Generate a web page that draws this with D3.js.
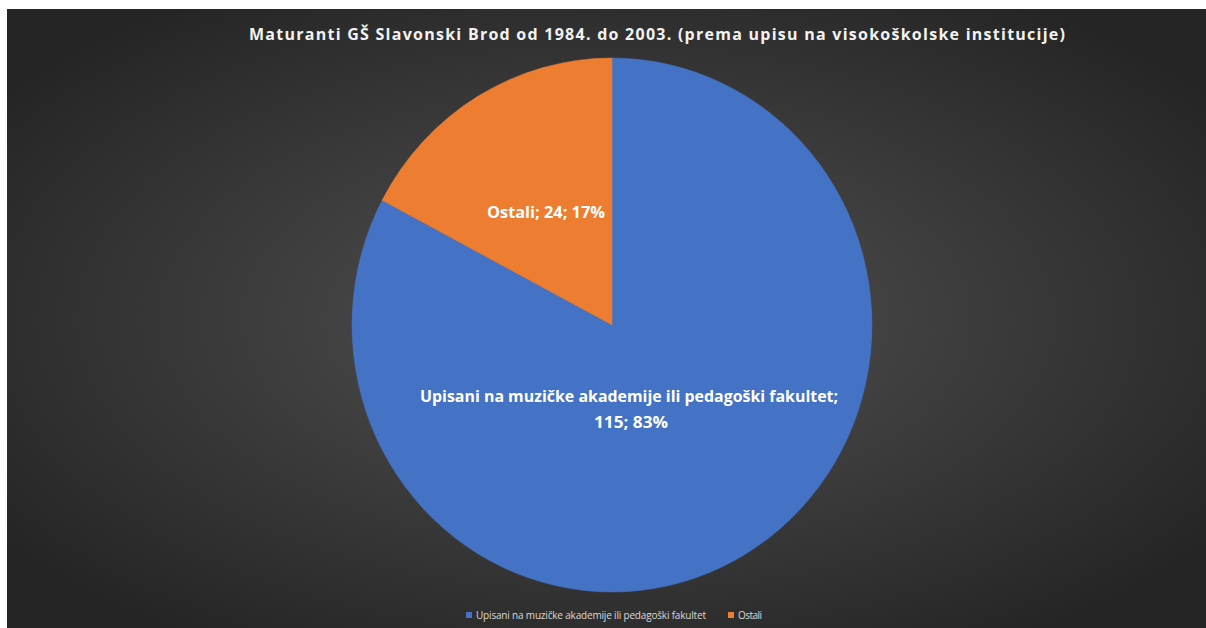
<!DOCTYPE html>
<html>
<head>
<meta charset="utf-8">
<script src="https://cdn.jsdelivr.net/npm/d3@7"></script>
<style>
  body { margin: 0; background: #fff; }
  svg text { font-family: "Open Sans", "Noto Sans", sans-serif; }
</style>
</head>
<body>
<div id="chart"></div>
<script>
const width = 1206
const height = 628

const title = "Maturanti GŠ Slavonski Brod od 1984. do 2003. (prema upisu na visokoškolske institucije)"
const categories = ["Upisani na muzičke akademije ili pedagoški fakultet", "Ostali"]
const values = [115, 24]
const percents = ["83%", "17%"]
const colors = ["#4472C4", "#ED7D31"]

const svg = d3.select("#chart").append("svg")
    .attr("width", width)
    .attr("height", height)

const defs = svg.append("defs")
const grad = defs.append("radialGradient").attr("id", "bg")
    .attr("cx", "50%").attr("cy", "50%").attr("r", "62%")
grad.append("stop").attr("offset", "0%").attr("stop-color", "#525252")
grad.append("stop").attr("offset", "100%").attr("stop-color", "#252525")

svg.append("rect")
    .attr("x", 7).attr("y", 9)
    .attr("width", width - 7).attr("height", height - 9)
    .attr("fill", "url(#bg)")

svg.append("text")
    .attr("x", 657).attr("y", 40)
    .attr("text-anchor", "middle")
    .attr("fill", "#f2f2f2")
    .attr("font-size", 16)
    .attr("font-weight", "bold")
    .attr("textLength", 816)
    .attr("lengthAdjust", "spacing")
    .text(title)

// pie
const cx = 612, cy = 325, r = 260
const pie = d3.pie().sort(null).value(d => d)
const arc = d3.arc().innerRadius(0).outerRadius(r)
const arcs = pie(values)

const g = svg.append("g")
    .attr("transform", `translate(${cx},${cy}) scale(1, ${267 / 260})`)

g.selectAll("path").data(arcs).enter().append("path")
    .attr("d", arc)
    .attr("fill", (d, i) => colors[i])
    .attr("stroke", (d, i) => colors[i])
    .attr("stroke-width", 0.5)

// data labels
const labels = svg.append("g").attr("fill", "#fff").attr("font-weight", "bold").attr("font-size", 16)

labels.append("text")
    .attr("x", 546).attr("y", 218)
    .attr("text-anchor", "middle")
    .attr("textLength", 118)
    .attr("lengthAdjust", "spacingAndGlyphs")
    .text(`${categories[1]}; ${values[1]}; ${percents[1]}`)

labels.append("text")
    .attr("x", 629).attr("y", 402)
    .attr("text-anchor", "middle")
    .attr("textLength", 418)
    .attr("lengthAdjust", "spacingAndGlyphs")
    .text(`${categories[0]};`)

labels.append("text")
    .attr("x", 631).attr("y", 428)
    .attr("text-anchor", "middle")
    .attr("textLength", 74)
    .attr("lengthAdjust", "spacingAndGlyphs")
    .text(`${values[0]}; ${percents[0]}`)

// legend
const legend = svg.append("g").attr("font-size", 10).attr("fill", "#d9d9d9")
const legendX = [466, 728]
const legendW = [230, 24]
categories.forEach((c, i) => {
    legend.append("rect")
        .attr("x", legendX[i]).attr("y", 612)
        .attr("width", 6).attr("height", 6)
        .attr("fill", colors[i])
    legend.append("text")
        .attr("x", legendX[i] + 10).attr("y", 619)
        .attr("textLength", legendW[i])
        .attr("lengthAdjust", "spacing")
        .text(c)
})
</script>
</body>
</html>
